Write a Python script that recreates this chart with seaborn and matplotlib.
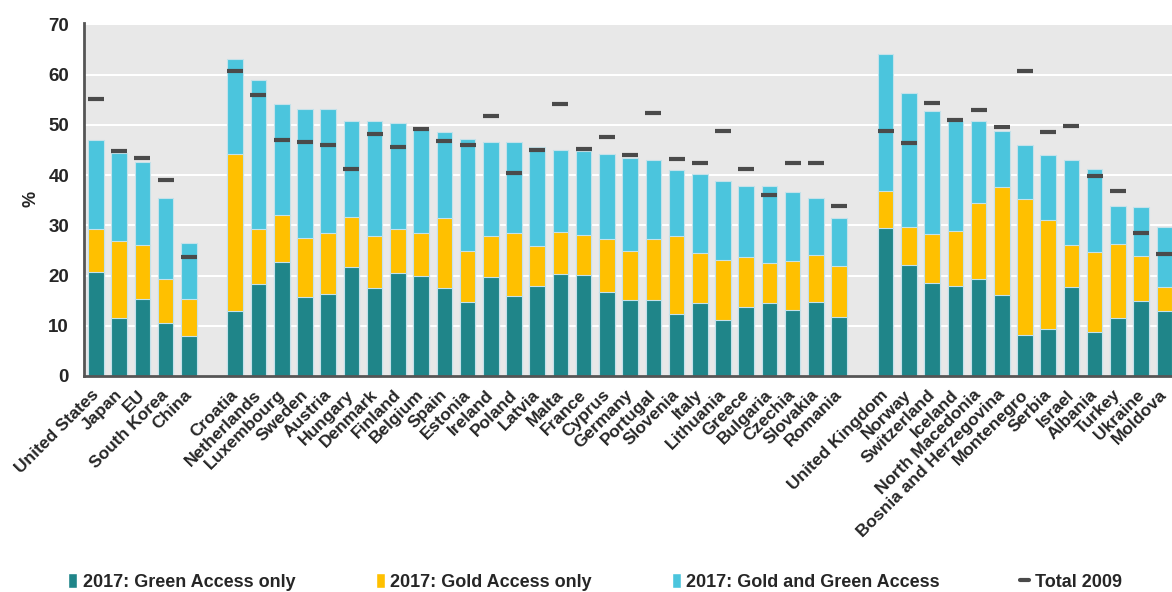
import seaborn as sns
import matplotlib.pyplot as plt
import matplotlib.transforms as mtransforms
from matplotlib.patches import Patch
from matplotlib.lines import Line2D

# Data (percent) - three country groups, gaps between them
world = ['United States', 'Japan', 'EU', 'South Korea', 'China']
eu = ['Croatia', 'Netherlands', 'Luxembourg', 'Sweden', 'Austria', 'Hungary',
      'Denmark', 'Finland', 'Belgium', 'Spain', 'Estonia', 'Ireland', 'Poland',
      'Latvia', 'Malta', 'France', 'Cyprus', 'Germany', 'Portugal', 'Slovenia',
      'Italy', 'Lithuania', 'Greece', 'Bulgaria', 'Czechia', 'Slovakia', 'Romania']
others = ['United Kingdom', 'Norway', 'Switzerland', 'Iceland', 'North Macedonia',
          'Bosnia and Herzegovina', 'Montenegro', 'Serbia', 'Israel', 'Albania',
          'Turkey', 'Ukraine', 'Moldova']
countries = world + eu + others

green_only = [20.7, 11.6, 15.3, 10.5, 8.0,
              13.0, 18.3, 22.6, 15.8, 16.3, 21.6, 17.5, 20.5, 19.9, 17.5, 14.7, 19.8, 15.9,
              17.9, 20.4, 20.1, 16.7, 15.1, 15.1, 12.4, 14.5, 11.1, 13.7, 14.5, 13.2, 14.8, 11.8,
              29.5, 22.0, 18.5, 17.9, 19.4, 16.1, 8.1, 9.3, 17.7, 8.7, 11.6, 15.0, 12.9]
gold_only = [8.6, 15.2, 10.7, 8.9, 7.3,
             31.2, 11.0, 9.5, 11.7, 12.2, 10.1, 10.3, 8.8, 8.5, 13.9, 10.1, 8.0, 12.5,
             7.9, 8.3, 8.0, 10.6, 9.7, 12.2, 15.4, 10.0, 11.9, 9.9, 8.0, 9.6, 9.2, 10.0,
             7.4, 7.6, 9.7, 11.0, 15.1, 21.6, 27.1, 21.8, 8.3, 16.0, 14.7, 8.9, 4.8]
gold_green = [17.7, 17.5, 16.6, 16.1, 11.1,
              18.8, 29.7, 22.1, 25.7, 24.6, 19.1, 23.0, 21.0, 20.7, 17.1, 22.3, 18.7, 18.1,
              19.8, 16.3, 16.6, 16.9, 18.6, 15.7, 13.2, 15.7, 15.9, 14.2, 15.3, 13.9, 11.5, 9.6,
              27.2, 26.8, 24.5, 21.8, 16.3, 11.0, 10.7, 12.9, 17.0, 16.6, 7.5, 9.8, 11.9]
total_2009 = [55.2, 44.8, 43.3, 39.0, 23.6,
              60.8, 56.0, 46.9, 46.5, 45.9, 41.3, 48.1, 45.5, 49.1, 46.7, 46.0, 51.7, 40.5,
              44.9, 54.2, 45.1, 47.5, 43.9, 52.3, 43.1, 42.4, 48.8, 41.2, 36.1, 42.4, 42.3, 33.9,
              48.7, 46.3, 54.4, 51.0, 53.0, 49.5, 60.8, 48.5, 49.7, 39.9, 36.9, 28.5, 24.2]

order = world + [' '] + eu + ['  '] + others
lvl1 = green_only
lvl2 = [g + o for g, o in zip(green_only, gold_only)]
lvl3 = [a + b for a, b in zip(lvl2, gold_green)]

c_green = '#1f8589'
c_gold = '#ffc000'
c_blue = '#4bc5dd'
c_mark = '#4a4a4a'

sns.set_style('darkgrid', {'axes.facecolor': '#e8e8e8', 'grid.color': 'white'})
plt.rcParams['font.family'] = ['Liberation Sans', 'DejaVu Sans']
plt.rcParams['font.weight'] = 'bold'

fig = plt.figure(figsize=(11.72, 5.92), dpi=100)
ax = fig.add_axes([84.3 / 1172, 216 / 592, 1 - 84.3 / 1172, 353.3 / 592])

# stacked look: draw cumulative totals, tallest first
bar_kw = dict(order=order, width=0.67, edgecolor='#c4e2ea', linewidth=0.8, ax=ax)
sns.barplot(x=countries, y=lvl3, color=c_blue, saturation=1, **bar_kw)
sns.barplot(x=countries, y=lvl2, color=c_gold, saturation=1, **bar_kw)
sns.barplot(x=countries, y=lvl1, color=c_green, saturation=1, **bar_kw)

# Total 2009 dashes
xpos = [order.index(c) for c in countries]
ax.scatter(xpos, total_2009, marker='_', s=11 ** 2, linewidths=3, color=c_mark, zorder=5)

ax.set_xlim(-0.5, 46.33)
ax.set_ylim(0, 70.32)
ax.set_yticks(range(0, 71, 10))
ax.grid(axis='y', color='white', linewidth=1.5)
ax.grid(axis='x', visible=False)
ax.set_axisbelow(True)

for s in ['top', 'right']:
    ax.spines[s].set_visible(False)
for s in ['left', 'bottom']:
    ax.spines[s].set_visible(True)
    ax.spines[s].set_color('#555555')
    ax.spines[s].set_linewidth(2)

ax.tick_params(axis='y', length=0, pad=11, labelsize=13.5)
ax.tick_params(axis='x', length=0, pad=8, labelsize=12.5)
for lab in ax.get_yticklabels():
    lab.set_fontweight('bold')
ax.set_xticks(range(len(order)))
ax.set_xticklabels(order, rotation=45, ha='right', va='top', rotation_mode='anchor',
                   fontweight='bold')
shift = mtransforms.ScaledTranslation(-5 / 100, 0, fig.dpi_scale_trans)
for lab in ax.get_xticklabels():
    lab.set_transform(lab.get_transform() + shift)
ax.set_xlabel('')
ax.set_ylabel('%', fontsize=13, fontweight='bold', labelpad=6)

handles = [Patch(facecolor=c_green), Patch(facecolor=c_gold), Patch(facecolor=c_blue),
           Line2D([0], [0], color=c_mark, linewidth=3)]
labels = ['2017: Green Access only', '2017: Gold Access only',
          '2017: Gold and Green Access', 'Total 2009']
fig.legend(handles, labels, loc='center', bbox_to_anchor=(0.5 + 9 / 1172, 10 / 592), ncol=4,
           frameon=False, fontsize=13, handlelength=0.5, handleheight=0.9,
           handletextpad=0.3, columnspacing=4.45, borderpad=0)

fig.savefig('out.png', dpi=100)
